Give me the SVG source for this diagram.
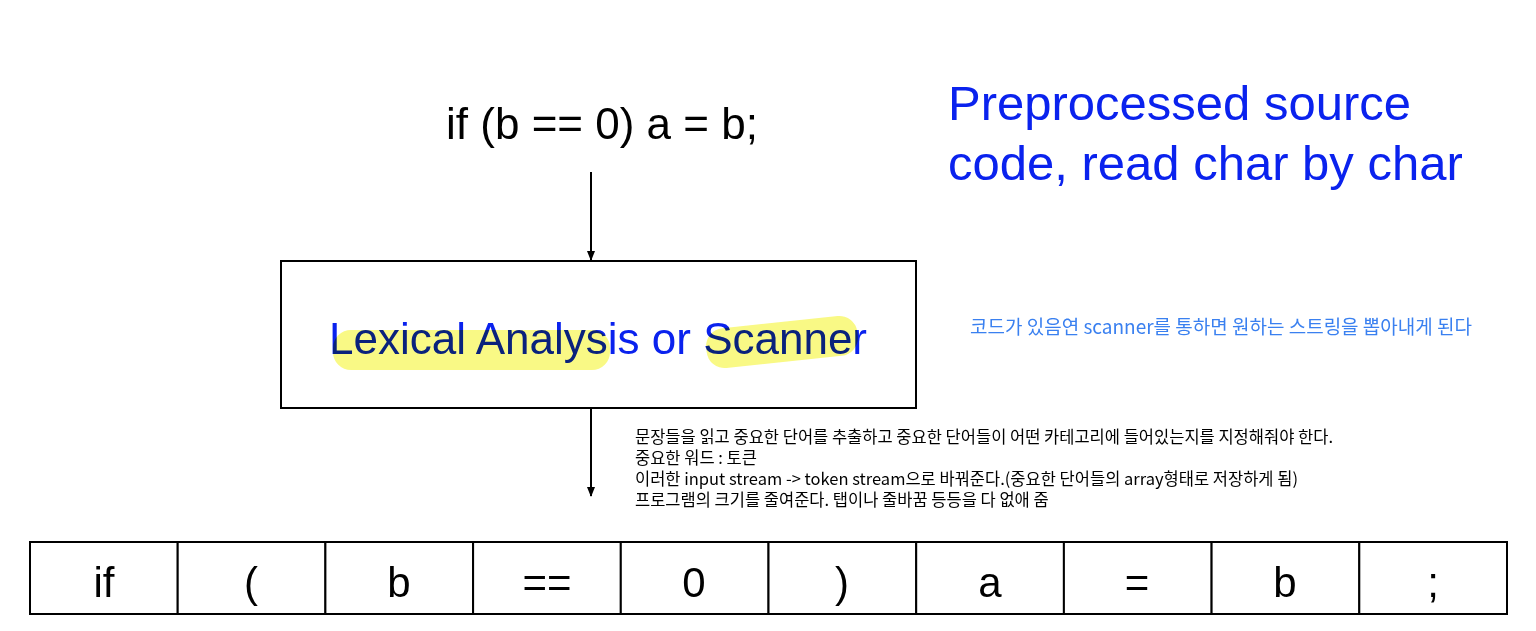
<svg xmlns="http://www.w3.org/2000/svg" width="1536" height="631" viewBox="0 0 1536 631">
<style>
.code{font-family:"Liberation Sans",Arial,sans-serif;font-size:44px;fill:#000}
.tok{font-family:"Liberation Sans",Arial,sans-serif;font-size:42px;fill:#000;text-anchor:middle}
.blue{font-family:"Liberation Sans",Arial,sans-serif;fill:#0a22ee}
.kr{font-family:"Noto Sans CJK KR","Noto Sans",sans-serif;font-size:16.5px;fill:#000}
.note{font-family:"Noto Sans CJK KR","Noto Sans",sans-serif;font-size:19px;fill:#3a80f0}
.cell{fill:#fff;stroke:#000;stroke-width:2}
.hl{fill:#f8f870;opacity:0.85;mix-blend-mode:multiply}
.edge{stroke:#000;stroke-width:2;fill:none;marker-end:url(#ah)}
</style>
<defs>
<marker id="ah" markerWidth="10" markerHeight="10" refX="9" refY="5" orient="auto" markerUnits="userSpaceOnUse">
<path d="M0,1 L10,5 L0,9 Z" fill="#000"/>
</marker>
</defs>
<rect width="1536" height="631" fill="#fff"/>
<g id="source">
<text class="code" x="602" y="139" text-anchor="middle">if (b == 0) a = b;</text>
</g>
<g id="caption">
<text class="blue" x="948" y="120" font-size="49">Preprocessed source</text>
<text class="blue" x="948" y="180" font-size="49">code, read char by char</text>
</g>
<g id="connectors">
<line class="edge" x1="591" y1="172" x2="591" y2="260"/>
<line class="edge" x1="591" y1="409" x2="591" y2="496"/>
</g>
<g id="scanner">
<rect x="281" y="261" width="635" height="147" fill="#fff" stroke="#000" stroke-width="2"/>
<text class="blue" x="598" y="354" font-size="44" text-anchor="middle">Lexical Analysis or Scanner</text>
<rect class="hl" x="333" y="330" width="277" height="40" rx="18"/>
<rect class="hl" x="706" y="322" width="152" height="40" rx="18" transform="rotate(-6 782 342)"/>
</g>
<g id="note">
<text class="note" x="970" y="334">코드가 있음연 scanner를 통하면 원하는 스트링을 뽑아내게 된다</text>
</g>
<g id="description">
<text class="kr" x="635" y="443">문장들을 읽고 중요한 단어를 추출하고 중요한 단어들이 어떤 카테고리에 들어있는지를 지정해줘야 한다.</text>
<text class="kr" x="635" y="464">중요한 워드 : 토큰</text>
<text class="kr" x="635" y="485">이러한 input stream -&gt; token stream으로 바꿔준다.(중요한 단어들의 array형태로 저장하게 됨)</text>
<text class="kr" x="635" y="506">프로그램의 크기를 줄여준다. 탭이나 줄바꿈 등등을 다 없애 줌</text>
</g>
<g id="tokens">
<rect class="cell" x="30" y="542" width="147.7" height="72"/>
<rect class="cell" x="177.7" y="542" width="147.7" height="72"/>
<rect class="cell" x="325.4" y="542" width="147.7" height="72"/>
<rect class="cell" x="473.1" y="542" width="147.7" height="72"/>
<rect class="cell" x="620.8" y="542" width="147.7" height="72"/>
<rect class="cell" x="768.5" y="542" width="147.7" height="72"/>
<rect class="cell" x="916.2" y="542" width="147.7" height="72"/>
<rect class="cell" x="1063.9" y="542" width="147.7" height="72"/>
<rect class="cell" x="1211.6" y="542" width="147.7" height="72"/>
<rect class="cell" x="1359.3" y="542" width="147.7" height="72"/>
<text class="tok" x="104" y="597">if</text>
<text class="tok" x="251" y="597">(</text>
<text class="tok" x="399" y="597">b</text>
<text class="tok" x="547" y="597">==</text>
<text class="tok" x="694" y="597">0</text>
<text class="tok" x="842" y="597">)</text>
<text class="tok" x="990" y="597">a</text>
<text class="tok" x="1137" y="597">=</text>
<text class="tok" x="1285" y="597">b</text>
<text class="tok" x="1433" y="597">;</text>
</g>
</svg>
